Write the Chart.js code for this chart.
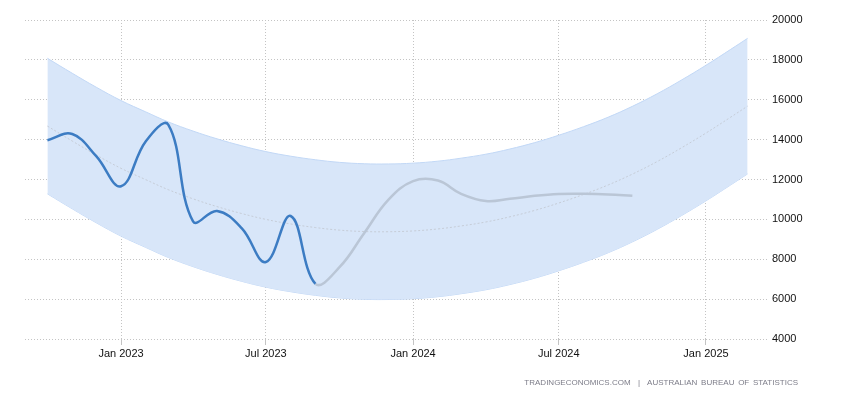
<!DOCTYPE html>
<html>
<head>
<meta charset="utf-8">
<script src="https://cdn.jsdelivr.net/npm/chart.js@4"></script>
<style>
  body { margin: 0; background: #fff; }
  #wrap { position: relative; width: 850px; height: 400px; }
  #source {
    position: absolute; right: 52px; top: 378px;
    font: 8px "Liberation Sans", Arial, sans-serif;
    color: #7c7c88; letter-spacing: 0; word-spacing: 1.5px;
  }
</style>
</head>
<body>
<div id="wrap">
  <canvas id="chart" width="850" height="400"></canvas>
  <div id="source">TRADINGECONOMICS.COM &nbsp;|&nbsp; AUSTRALIAN BUREAU OF STATISTICS</div>
</div>
<script>
// Données
const actualDates = ['2022-10-01','2022-11-01','2022-12-01','2023-01-01','2023-02-01','2023-03-01',
  '2023-04-01','2023-05-01','2023-06-01','2023-07-01','2023-08-01','2023-09-01'];
const actualValues = [13970, 14280, 13170, 11660, 13920, 14750, 9900, 10420, 9550, 7860, 10170, 6770];

// prévision (commence après le dernier point réel)
const forecastDates = ['2023-10-01','2023-11-01','2023-12-01','2024-01-01','2024-02-01','2024-03-01',
  '2024-04-01','2024-05-01','2024-06-01','2024-07-01','2024-08-01','2024-09-01','2024-10-01'];
const forecastValues = [7600, 9320, 10980, 11920, 11950, 11280, 10920, 11030, 11180, 11270, 11280, 11250, 11180];

const bandDates = ['2022-10-01','2022-11-01','2022-12-01','2023-01-01','2023-02-01','2023-03-01','2023-04-01',
  '2023-05-01','2023-06-01','2023-07-01','2023-08-01','2023-09-01','2023-10-01','2023-11-01','2023-12-01',
  '2024-01-01','2024-02-01','2024-03-01','2024-04-01','2024-05-01','2024-06-01','2024-07-01','2024-08-01',
  '2024-09-01','2024-10-01','2024-11-01','2024-12-01','2025-01-01','2025-02-01','2025-02-22'];
const trendValues = [14680, 13930, 13230, 12560, 11990, 11490, 11030, 10640, 10290, 10000, 9770, 9590, 9460, 9390, 9380,
  9420, 9520, 9670, 9870, 10130, 10450, 10820, 11250, 11730, 12270, 12900, 13580, 14330, 15130, 15680];
const upperValues = [18080, 17330, 16630, 15960, 15390, 14890, 14430, 14040, 13690, 13400, 13170, 12990, 12860, 12790, 12780,
  12820, 12920, 13070, 13270, 13530, 13850, 14220, 14650, 15130, 15670, 16300, 16980, 17730, 18530, 19080];
const lowerValues = [11280, 10530, 9830, 9160, 8590, 8090, 7630, 7240, 6890, 6600, 6370, 6190, 6060, 5990, 5980,
  6020, 6120, 6270, 6470, 6730, 7050, 7420, 7850, 8330, 8870, 9500, 10180, 10930, 11730, 12280];

const xTickDates = ['2023-01-01','2023-07-01','2024-01-01','2024-07-01','2025-01-01'];
const xTickLabels = ['Jan 2023','Jul 2023','Jan 2024','Jul 2024','Jan 2025'];
const yTicks = [4000, 6000, 8000, 10000, 12000, 14000, 16000, 18000, 20000];

// jours depuis le 1er janvier 2023
const day = s => (Date.parse(s) - Date.parse('2023-01-01')) / 864e5;
const pts = (dates, vals) => dates.map((d, i) => ({ x: day(d), y: vals[i] }));

// une seule série : réel puis prévision, couleur par segment
const mainPts = pts(actualDates.concat(forecastDates), actualValues.concat(forecastValues));
const lastActual = actualDates.length - 1;

const gridColor = '#c4c4c4';
const font = { family: '"Liberation Sans", Arial, sans-serif', size: 11 };

new Chart(document.getElementById('chart'), {
  type: 'line',
  data: {
    datasets: [
      { data: mainPts, borderColor: '#3c7cc3', borderWidth: 2.5,
        segment: { borderColor: c => c.p0DataIndex >= lastActual ? '#bac6d6' : '#3c7cc3' } },
      { data: pts(bandDates, trendValues), borderColor: '#c6cdd8', borderWidth: 1, borderDash: [2, 2] },
      { data: pts(bandDates, upperValues), borderColor: '#c2d8f6', borderWidth: 1,
        backgroundColor: '#d8e6f9', fill: '+1' },
      { data: pts(bandDates, lowerValues), borderColor: '#c2d8f6', borderWidth: 1 }
    ]
  },
  options: {
    responsive: false,
    animation: false,
    events: [],
    layout: { padding: { left: 25, top: 20, right: 0, bottom: 0 } },
    elements: { point: { radius: 0 }, line: { tension: 0.4, fill: false } },
    plugins: { legend: { display: false }, tooltip: { enabled: false } },
    scales: {
      x: {
        type: 'linear',
        min: -120, max: 808.5,
        afterBuildTicks: s => { s.ticks = xTickDates.map(d => ({ value: day(d) })); },
        afterFit: s => { s.height = 61; },
        ticks: {
          callback: (v, i) => xTickLabels[i],
          color: '#111', font, padding: 2, maxRotation: 0
        },
        grid: { color: gridColor, drawTicks: true, tickLength: 6, tickColor: gridColor },
        border: { display: false, dash: [1, 2] }
      },
      y: {
        position: 'right',
        min: 4000, max: 20000,
        afterBuildTicks: s => { s.ticks = yTicks.map(v => ({ value: v })); },
        afterFit: s => { s.width = 82; },
        ticks: { color: '#111', font, padding: 4, callback: v => String(v) },
        grid: { color: gridColor, drawTicks: false },
        border: { display: false, dash: [1, 2] }
      }
    }
  }
});
</script>
</body>
</html>
